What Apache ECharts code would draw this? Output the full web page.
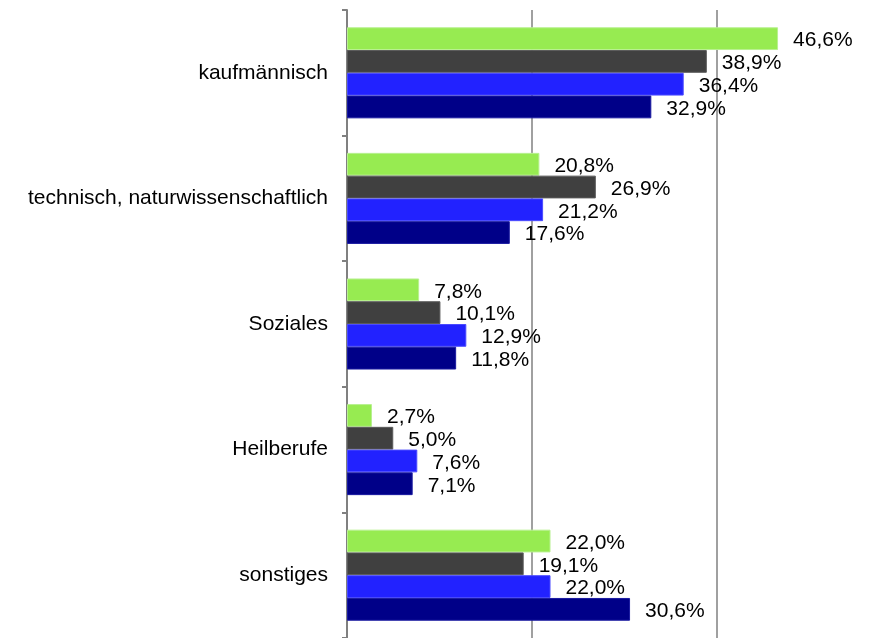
<!DOCTYPE html>
<html>
<head>
<meta charset="utf-8">
<script src="https://cdn.jsdelivr.net/npm/echarts@6/dist/echarts.min.js"></script>
<style>
html,body{margin:0;padding:0;background:#fff;}
#chart{width:870px;height:638px;}
</style>
</head>
<body>
<div id="chart"></div>
<script>
const categories = ['kaufmännisch', 'technisch, naturwissenschaftlich', 'Soziales', 'Heilberufe', 'sonstiges'];
const seriesGreen = [46.6, 20.8, 7.8, 2.7, 22.0];
const seriesGray  = [38.9, 26.9, 10.1, 5.0, 19.1];
const seriesBlue  = [36.4, 21.2, 12.9, 7.6, 22.0];
const seriesNavy  = [32.9, 17.6, 11.8, 7.1, 30.6];
const seriesNames = ['Serie 1', 'Serie 2', 'Serie 3', 'Serie 4'];
const seriesData = [seriesGreen, seriesGray, seriesBlue, seriesNavy];
const colors = ['#97EB51', '#404040', '#2222FF', '#000088'];
const borders = ['#b8f090', '#5a5a5a', '#4a4aff', '#1a1aa0'];

const chart = echarts.init(document.getElementById('chart'), null, {renderer: 'canvas'});
const font = '"Liberation Sans", Arial, sans-serif';
chart.setOption({
  animation: false,
  backgroundColor: '#fff',
  grid: {left: 347, right: 60.5, top: 10, bottom: -1, containLabel: false},
  xAxis: {
    type: 'value', min: 0, max: 50, interval: 20,
    axisLabel: {show: false},
    axisLine: {show: false},
    axisTick: {show: false},
    splitLine: {show: true, showMaxLine: false, lineStyle: {color: '#808080', width: 1.5}}
  },
  yAxis: {
    type: 'category', data: categories, inverse: true,
    axisLine: {show: true, lineStyle: {color: '#808080', width: 2}},
    axisTick: {show: true, length: 5, lineStyle: {color: '#808080', width: 2}},
    axisLabel: {color: '#000', fontFamily: font, fontSize: 21, margin: 19}
  },
  series: seriesData.map((d, i) => ({
    name: seriesNames[i],
    type: 'bar',
    data: d,
    barGap: '0%',
    barCategoryGap: '27.5%',
    itemStyle: {color: colors[i], borderColor: borders[i], borderWidth: 1},
    label: {
      show: true, position: 'right', distance: 15,
      color: '#000', fontFamily: font, fontSize: 21, offset: [0, 2],
      formatter: p => p.value.toFixed(1).replace('.', ',') + '%'
    }
  }))
});
</script>
</body>
</html>
